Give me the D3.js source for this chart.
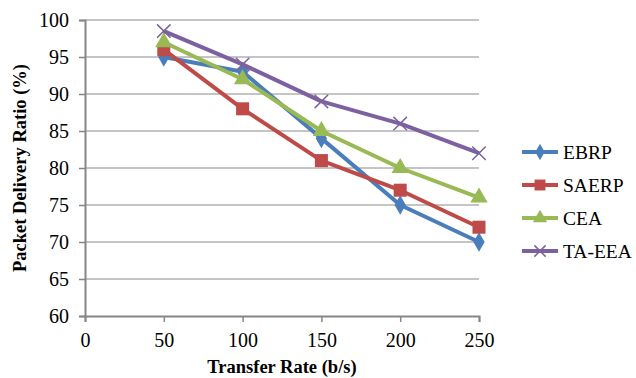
<!DOCTYPE html>
<html>
<head>
<meta charset="utf-8">
<script src="https://cdn.jsdelivr.net/npm/d3@7"></script>
<style>
  body { margin: 0; background: #fff; }
</style>
</head>
<body>
<div id="chart"></div>
<script>
// data
const rates = [50, 100, 150, 200, 250];
const ebrp  = [95, 93, 84, 75, 70];
const saerp = [96, 88, 81, 77, 72];
const cea   = [97, 92, 85, 80, 76];
const taeea = [98.5, 94, 89, 86, 82];
const xTicks = [0, 50, 100, 150, 200, 250];
const yTicks = [60, 65, 70, 75, 80, 85, 90, 95, 100];

const series = [
  { name: "EBRP",   values: ebrp,  color: "#4A7EBB", marker: "diamond" },
  { name: "SAERP",  values: saerp, color: "#BE4B48", marker: "square" },
  { name: "CEA",    values: cea,   color: "#98B954", marker: "triangle" },
  { name: "TA-EEA", values: taeea, color: "#7D60A0", marker: "cross" }
];

const serif = '"Liberation Serif"';
const width = 636, height = 378;
const margin = { top: 20, right: 157, bottom: 62, left: 85 };

const svg = d3.select("#chart").append("svg")
    .attr("width", width)
    .attr("height", height);

const x = d3.scaleLinear().domain([0, 250]).range([margin.left, width - margin.right]);
const y = d3.scaleLinear().domain([60, 100]).range([height - margin.bottom, margin.top]);

// gridlines
svg.append("g")
  .selectAll("line")
  .data(yTicks.filter(d => d > 60))
  .enter().append("line")
    .attr("x1", x(0)).attr("x2", x(250))
    .attr("y1", d => y(d)).attr("y2", d => y(d))
    .attr("stroke", "#8a8a8a")
    .attr("stroke-width", 1);

// axes
const yAxis = svg.append("g")
    .attr("transform", `translate(${x(0)},0)`)
    .call(d3.axisLeft(y).tickValues(yTicks).tickSize(6).tickPadding(10));
const xAxis = svg.append("g")
    .attr("transform", `translate(0,${y(60)})`)
    .call(d3.axisBottom(x).tickValues(xTicks).tickSize(6).tickPadding(11));

[xAxis, yAxis].forEach(g => {
  g.select(".domain").attr("stroke", "#868686").attr("stroke-width", 2);
  g.selectAll(".tick line").attr("stroke", "#868686").attr("stroke-width", 1.5);
  g.selectAll(".tick text")
    .attr("fill", "#000")
    .style("font-family", serif)
    .style("font-size", "20px");
});

// markers
const sym = {
  diamond: d3.symbol().type(d3.symbolDiamond).size(110),
  square: d3.symbol().type(d3.symbolSquare).size(170),
  triangle: d3.symbol().type(d3.symbolTriangle).size(130),
  cross: d3.symbol().type(d3.symbolX).size(120)
};

function drawMarker(g, s, cx, cy, scale) {
  const p = g.append("path")
    .attr("d", sym[s.marker].size(sym[s.marker].size()() * (scale || 1))())
    .attr("transform", `translate(${cx},${cy})`);
  if (s.marker === "cross") {
    p.attr("fill", "none").attr("stroke", s.color).attr("stroke-width", 1.5);
  } else {
    p.attr("fill", s.color);
  }
}

const line = d3.line()
    .x((d, i) => x(rates[i]))
    .y(d => y(d));

series.forEach(s => {
  const g = svg.append("g");
  g.append("path")
    .datum(s.values)
    .attr("d", line)
    .attr("fill", "none")
    .attr("stroke", s.color)
    .attr("stroke-width", 4)
    .attr("stroke-linejoin", "round");
  s.values.forEach((v, i) => drawMarker(g, s, x(rates[i]), y(v)));
});

// legend
const legend = svg.append("g");
series.forEach((s, i) => {
  const ly = 152 + i * 33;
  const g = legend.append("g");
  g.append("line")
    .attr("x1", 522).attr("x2", 558)
    .attr("y1", ly).attr("y2", ly)
    .attr("stroke", s.color).attr("stroke-width", 4);
  drawMarker(g, s, 540, ly, 0.7);
  g.append("text")
    .attr("x", 563).attr("y", ly + 7)
    .style("font-family", serif)
    .style("font-size", "19.5px")
    .text(s.name);
});

// axis titles
svg.append("text")
    .attr("x", (x(0) + x(250)) / 2)
    .attr("y", 373)
    .attr("text-anchor", "middle")
    .style("font-family", serif)
    .style("font-size", "18.5px")
    .style("font-weight", "bold")
    .text("Transfer Rate (b/s)");

svg.append("text")
    .attr("transform", "rotate(-90)")
    .attr("x", -(y(60) + y(100)) / 2)
    .attr("y", 26)
    .attr("text-anchor", "middle")
    .style("font-family", serif)
    .style("font-size", "18.5px")
    .style("font-weight", "bold")
    .text("Packet Delivery Ratio (%)");
</script>
</body>
</html>
